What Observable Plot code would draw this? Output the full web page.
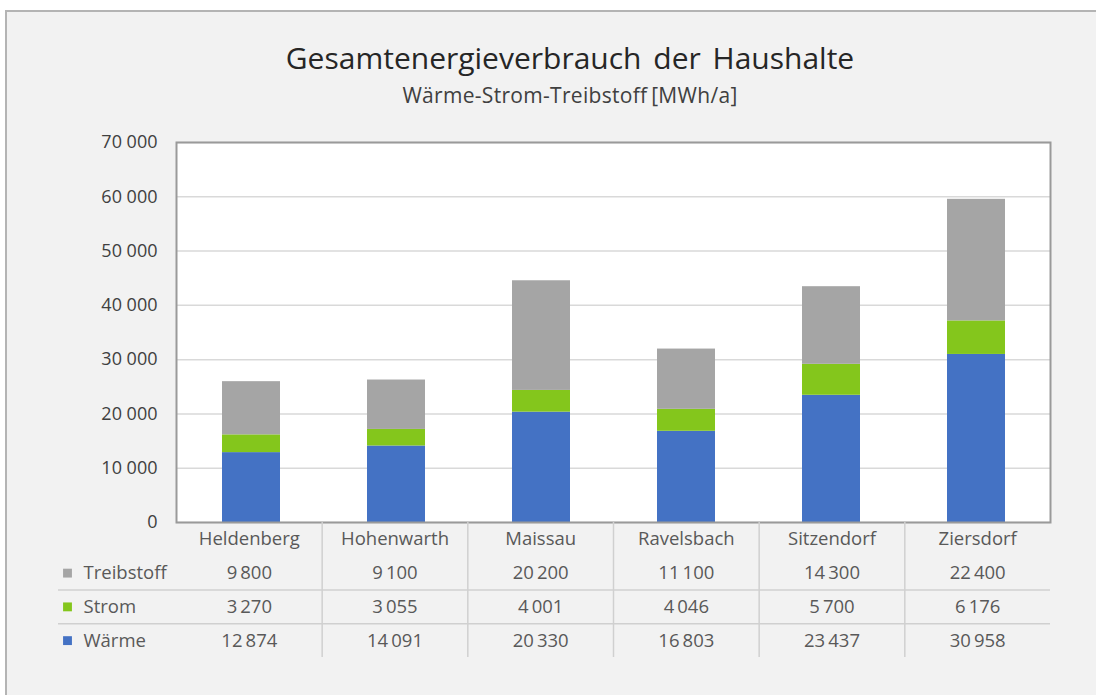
<!DOCTYPE html>
<html>
<head>
<meta charset="utf-8">
<script src="https://cdn.jsdelivr.net/npm/d3@7"></script>
<script src="https://cdn.jsdelivr.net/npm/@observablehq/plot@0.6"></script>
<style>
  html, body { margin: 0; padding: 0; background: #ffffff; width: 1096px; height: 695px; overflow: hidden; }
  #sheet { position: absolute; left: 5px; top: 10px; width: 1100px; height: 700px; background: #f2f2f2;
           border-top: 2px solid #b4b4b4; border-left: 2px solid #b4b4b4; box-sizing: border-box; }
  .title { position: absolute; left: 0; width: 1140px; text-align: center; font-family: "Open Sans", sans-serif; }
  #title { top: 37px; font-size: 30px; color: #262626; word-spacing: 4px; }
  #subtitle { top: 81px; font-size: 21px; color: #404040; letter-spacing: 0.3px; }
  #chart { position: absolute; left: 0; top: 130px; }
  #table { position: absolute; left: 0; top: 522px; }
</style>
</head>
<body>
<div id="sheet"></div>
<div class="title" id="title">Gesamtenergieverbrauch der Haushalte</div>
<div class="title" id="subtitle">Wärme-Strom-Treibstoff&#8201;[MWh/a]</div>
<div id="chart"></div>
<div id="table"></div>
<script>
// ---- data ----
const categories = ["Heldenberg", "Hohenwarth", "Maissau", "Ravelsbach", "Sitzendorf", "Ziersdorf"];
const seriesNames = ["Wärme", "Strom", "Treibstoff"];
const waerme = [12874, 14091, 20330, 16803, 23437, 30958];
const strom = [3270, 3055, 4001, 4046, 5700, 6176];
const treibstoff = [9800, 9100, 20200, 11100, 14300, 22400];
const yTicks = [0, 10000, 20000, 30000, 40000, 50000, 60000, 70000];
const colors = ["#4472C4", "#84C61C", "#A5A5A5"];

const seriesValues = {"Wärme": waerme, "Strom": strom, "Treibstoff": treibstoff};
const fmtAxis = v => d3.format(",")(v).replace(/,/g, "\u00A0");
const fmtCell = v => d3.format(",")(v).replace(/,/g, "\u2009");

// long-format rows, stacked bottom-up: Wärme, Strom, Treibstoff
const bars = seriesNames.flatMap(s => categories.map((c, i) => ({category: c, series: s, value: seriesValues[s][i]})));

const W = 1096;
const chart = Plot.plot({
  width: W,
  height: 402,
  marginLeft: 176,
  marginRight: 46,
  marginTop: 12,
  marginBottom: 10,
  style: {background: "transparent", fontFamily: "Open Sans, sans-serif", color: "#404040"},
  x: {domain: categories, paddingInner: 0.6, paddingOuter: 0.3, axis: null},
  y: {domain: [0, 70000], axis: null},
  color: {domain: seriesNames, range: colors},
  marks: [
    Plot.frame({fill: "white", stroke: null}),
    Plot.gridY(yTicks, {stroke: "#d9d9d9", strokeOpacity: 1, strokeWidth: 1.5}),
    Plot.barY(bars, {x: "category", y: "value", fill: "series", order: seriesNames}),
    Plot.frame({stroke: "#9a9a9a", strokeWidth: 2}),
    Plot.axisY(yTicks, {tickSize: 0, tickPadding: 19, fontSize: 18, tickFormat: fmtAxis, label: null})
  ]
});
document.getElementById("chart").append(chart);

// ---- data table under the chart ----
const tableRows = ["Treibstoff", "Strom", "Wärme"];
const header = categories.map((c, i) => ({col: i + 0.5, row: 0.5, text: c}));
const cells = tableRows.flatMap((s, j) => categories.map((c, i) => ({col: i + 0.5, row: j + 1.5, text: fmtCell(seriesValues[s][i])})));
const labels = tableRows.map((s, j) => ({row: j + 1.5, text: s, color: colors[seriesNames.indexOf(s)]}));

const table = Plot.plot({
  width: W,
  height: 135,
  marginLeft: 176,
  marginRight: 46,
  marginTop: 0,
  marginBottom: 0,
  style: {background: "transparent", fontFamily: "Open Sans, sans-serif", overflow: "visible"},
  x: {domain: [0, categories.length], axis: null},
  y: {domain: [0, tableRows.length + 1], reverse: true, axis: null},
  marks: [
    Plot.ruleX(d3.range(1, categories.length), {stroke: "#d0d0d0", strokeWidth: 1.5}),
    Plot.ruleY(d3.range(2, tableRows.length + 1), {stroke: "#d0d0d0", strokeWidth: 1.5, insetLeft: -118}),
    Plot.text(header.concat(cells), {x: "col", y: "row", text: "text", fontSize: 18.5, fill: "#595959"}),
    Plot.dot(labels, {x: () => 0, y: "row", symbol: "square", r: 5, fill: "color", stroke: null, dx: -109}),
    Plot.text(labels, {x: () => 0, y: "row", text: "text", textAnchor: "start", fontSize: 18.5, fill: "#595959", dx: -93})
  ]
});
document.getElementById("table").append(table);
</script>
</body>
</html>
